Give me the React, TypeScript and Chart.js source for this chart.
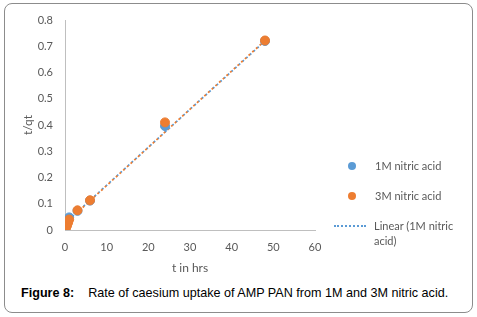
import React, { useEffect, useRef } from "react";
import { Chart, registerables } from "chart.js";

Chart.register(...registerables);

const timeHrs1M = [0.083, 0.25, 0.5, 0.75, 1, 3, 6, 24, 48];
const tqt1M = [0.006, 0.014, 0.024, 0.036, 0.048, 0.073, 0.112, 0.396, 0.72];
const timeHrs3M = [0.083, 0.25, 0.5, 0.75, 1, 3, 6, 24, 48];
const tqt3M = [0.002, 0.008, 0.017, 0.028, 0.04, 0.075, 0.113, 0.41, 0.722];
const trendX = [0, 48];
const trend1M = [0.026, 0.72];
const trend3M = [0.024, 0.722];
const legendLabels = ["1M nitric acid", "3M nitric acid", "Linear (1M nitric acid)"];
const BLUE = "#5B9BD5";
const ORANGE = "#ED7D31";
const GRAY = "#595959";
const FONT = "Lato, 'Open Sans', sans-serif";

export default function App() {
  const ref = useRef<HTMLCanvasElement | null>(null);
  useEffect(() => {
    if (!ref.current) return;
    const toPts = (xs: number[], ys: number[]) => xs.map((x, i) => ({ x, y: ys[i] }));
    const chart = new Chart(ref.current, {
      type: "scatter",
      data: {
        datasets: [
          {
            label: legendLabels[2],
            data: toPts(trendX, trend1M),
            showLine: true,
            borderColor: BLUE,
            borderWidth: 1.75,
            borderDash: [2, 3],
            borderCapStyle: "butt",
            pointRadius: 0,
            order: 4,
          } as any,
          {
            label: "Linear (3M nitric acid)",
            data: toPts(trendX, trend3M),
            showLine: true,
            borderColor: ORANGE,
            borderWidth: 1.75,
            borderDash: [2, 3],
            borderDashOffset: 1,
            borderCapStyle: "butt",
            pointRadius: 0,
            order: 3,
          } as any,
          {
            label: legendLabels[0],
            data: toPts(timeHrs1M, tqt1M),
            backgroundColor: BLUE,
            borderColor: BLUE,
            pointRadius: 4.5,
            order: 2,
          },
          {
            label: legendLabels[1],
            data: toPts(timeHrs3M, tqt3M),
            backgroundColor: ORANGE,
            borderColor: ORANGE,
            pointRadius: 4.5,
            order: 1,
          },
        ],
      },
      options: {
        animation: false,
        responsive: false,
        layout: { padding: { top: 20, right: 162, left: 0, bottom: 0 } },
        plugins: { legend: { display: false }, tooltip: { enabled: false } },
        scales: {
          x: {
            type: "linear",
            min: 0,
            max: 60,
            ticks: { stepSize: 10, color: GRAY, font: { family: FONT, size: 11 }, padding: 11 },
            grid: { display: false, drawTicks: false },
            border: { display: true, color: "#BFBFBF", width: 1 },
            title: {
              display: true,
              text: "t in hrs",
              color: GRAY,
              font: { family: FONT, size: 12 },
              padding: { top: 0, bottom: 10 },
            },
            afterFit: (s: any) => {
              s.height = 55;
            },
          },
          y: {
            min: 0,
            max: 0.8,
            ticks: { stepSize: 0.1, color: GRAY, font: { family: FONT, size: 11 }, padding: 12 },
            grid: { display: false, drawTicks: false },
            border: { display: true, color: "#BFBFBF", width: 1 },
            title: {
              display: true,
              text: "t/qt",
              color: GRAY,
              font: { family: FONT, size: 12 },
              padding: { top: 21, bottom: 0 },
            },
            afterFit: (s: any) => {
              s.width = 65;
            },
          },
        },
      } as any,
    });
    return () => chart.destroy();
  }, []);

  const legendText: React.CSSProperties = {
    position: "absolute",
    fontFamily: FONT,
    fontSize: 11,
    color: GRAY,
    lineHeight: "15px",
  };

  return (
    <div style={{ position: "absolute", left: 0, top: 0, width: 477, height: 317, background: "#fff" }}>
      <div
        style={{
          position: "absolute",
          left: 4,
          top: 3,
          width: 469,
          height: 310,
          border: "1.5px solid #8c8c8c",
          borderRadius: 8,
          boxSizing: "border-box",
        }}
      />
      <canvas
        ref={ref}
        width={477}
        height={285}
        style={{ position: "absolute", left: 0, top: 0, width: 477, height: 285 }}
      />
      <div style={{ position: "absolute", left: 348, top: 162, width: 8, height: 8, borderRadius: 4, background: BLUE }} />
      <div style={{ ...legendText, left: 375, top: 158 }}>{legendLabels[0]}</div>
      <div style={{ position: "absolute", left: 348, top: 192, width: 8, height: 8, borderRadius: 4, background: ORANGE }} />
      <div style={{ ...legendText, left: 375, top: 188 }}>{legendLabels[1]}</div>
      <div
        style={{
          position: "absolute",
          left: 334,
          top: 225,
          width: 32,
          height: 0,
          borderTop: "2px dotted " + BLUE,
        }}
      />
      <div style={{ ...legendText, left: 374, top: 218, width: 95 }}>{legendLabels[2]}</div>
      <div
        style={{
          position: "absolute",
          left: 21,
          top: 286,
          fontFamily: "'Liberation Sans', Arial, sans-serif",
          fontSize: 12.6,
          color: "#000",
          whiteSpace: "nowrap",
        }}
      >
        <b>Figure 8:</b>
        <span style={{ marginLeft: 14 }}>Rate of caesium uptake of AMP PAN from 1M and 3M nitric acid.</span>
      </div>
    </div>
  );
}
